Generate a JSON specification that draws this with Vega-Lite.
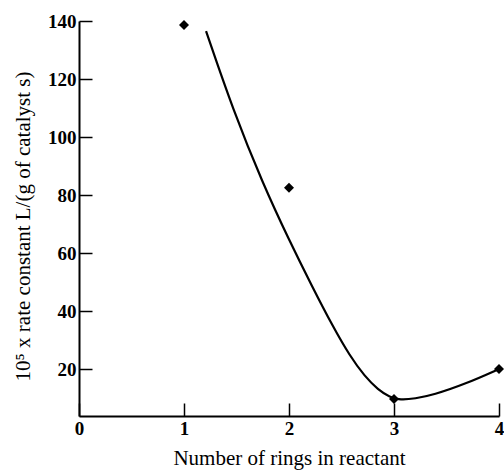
{
  "$schema": "https://vega.github.io/schema/vega-lite/v6.json",
  "width": 420,
  "height": 395,
  "autosize": {"type": "none"},
  "padding": {"left": 79, "top": 21, "right": 5, "bottom": 59},
  "background": "white",
  "config": {
    "view": {"stroke": null},
    "font": "Liberation Serif",
    "axis": {
      "domainColor": "black",
      "domainWidth": 2,
      "tickColor": "black",
      "tickWidth": 1.5,
      "tickSize": -13,
      "grid": false,
      "labelFont": "Liberation Serif",
      "labelFontSize": 19,
      "labelFontWeight": "bold",
      "labelColor": "black",
      "titleFont": "Liberation Serif",
      "titleFontSize": 21,
      "titleFontWeight": "normal",
      "titleColor": "black"
    }
  },
  "datasets": {
    "points": [
      {"rings": 1, "k": 138.6},
      {"rings": 2, "k": 82.5},
      {"rings": 3, "k": 9.7},
      {"rings": 4, "k": 20}
    ],
    "curve": [
      {"x": 1.21, "y": 136.5},
      {"x": 1.47, "y": 109},
      {"x": 1.75, "y": 84},
      {"x": 2.0, "y": 64.5},
      {"x": 2.22, "y": 48.5},
      {"x": 2.42, "y": 34.5},
      {"x": 2.58, "y": 24.5},
      {"x": 2.72, "y": 17.5},
      {"x": 2.85, "y": 12.8},
      {"x": 2.96, "y": 10.3},
      {"x": 3.06, "y": 9.3},
      {"x": 3.2, "y": 9.8},
      {"x": 3.37, "y": 11},
      {"x": 3.69, "y": 15},
      {"x": 4.0, "y": 20}
    ]
  },
  "layer": [
    {
      "data": {"name": "curve"},
      "mark": {"type": "line", "interpolate": "basis", "color": "black", "strokeWidth": 2.2},
      "encoding": {
        "x": {
          "field": "x", "type": "quantitative",
          "scale": {"domain": [0, 4], "nice": false},
          "axis": {
            "values": [0, 1, 2, 3, 4],
            "format": "d",
            "labelFlush": false,
            "title": "Number of rings in reactant",
            "labelPadding": 16,
            "titleY": 42,
            "titleBaseline": "middle"
          }
        },
        "y": {
          "field": "y", "type": "quantitative",
          "scale": {"domain": [3.8, 140], "nice": false, "zero": false},
          "axis": {
            "values": [20, 40, 60, 80, 100, 120, 140],
            "labelFlush": false,
            "title": "10⁵ x rate constant L/(g of catalyst s)",
            "labelPadding": 16,
            "titleX": -56,
            "titleY": 205,
            "titleBaseline": "middle"
          }
        }
      }
    },
    {
      "data": {"name": "points"},
      "mark": {"type": "point", "shape": "diamond", "filled": true, "color": "black", "size": 100, "opacity": 1},
      "encoding": {
        "x": {"field": "rings", "type": "quantitative"},
        "y": {"field": "k", "type": "quantitative"}
      }
    }
  ]
}
